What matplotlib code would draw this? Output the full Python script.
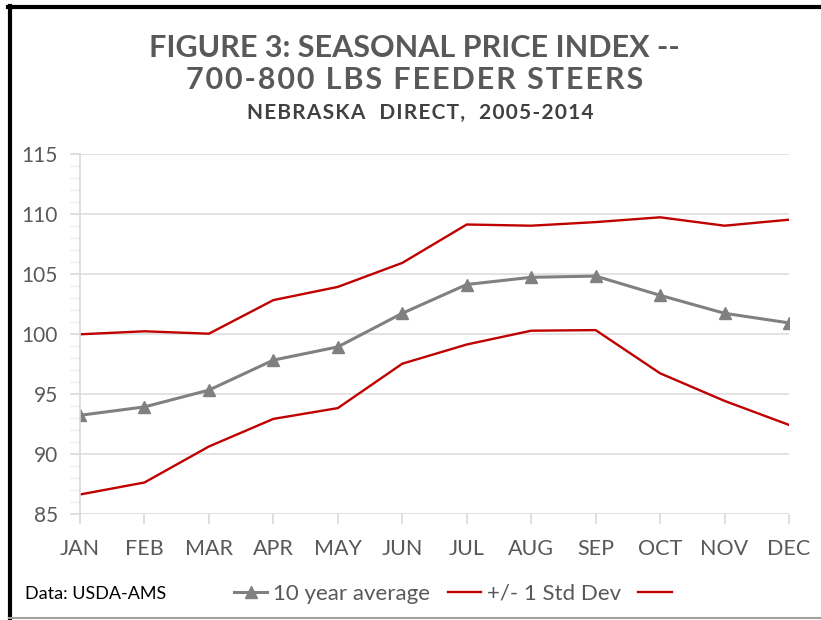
#!/usr/bin/env python3
# seasonal price index chart, feeder steers
from matplotlib import pyplot as plt
from matplotlib.lines import Line2D
from matplotlib.ticker import MultipleLocator
import numpy as np

months = ["JAN", "FEB", "MAR", "APR", "MAY", "JUN",
          "JUL", "AUG", "SEP", "OCT", "NOV", "DEC"]

# 10 year average index
avg = [93.2, 93.9, 95.3, 97.8, 98.9, 101.7,
       104.1, 104.7, 104.8, 103.2, 101.7, 100.9]
# +1 std dev
upper = [99.95, 100.2, 100.0, 102.8, 103.9, 105.9,
         109.1, 109.0, 109.3, 109.7, 109.0, 109.5]
# -1 std dev
lower = [86.6, 87.6, 90.6, 92.9, 93.8, 97.5,
         99.1, 100.25, 100.3, 96.7, 94.4, 92.4]

y_ticks = [85, 90, 95, 100, 105, 110, 115]

txt_col = "#595959"
red = "#C00000"
gray = "#808080"
fam = ["Lato", "DejaVu Sans"]
plt.rcParams["font.family"] = fam


def spaced(s):
    # excel title has wide letter spacing, fake it with hair spaces
    return "\u200a".join(s)


fig = plt.figure(figsize=(8.21, 6.2), dpi=100)
ax = fig.add_axes([80/821, 1-513.7/620, 709/821, 360/620])

x = np.arange(len(months))
l_avg, = ax.plot(x, avg, color=gray, lw=2.2, marker="^", markersize=9,
                 label="10 year average")
l_up, = ax.plot(x, upper, color=red, lw=1.7, label="+/- 1 Std Dev")
l_lo, = ax.plot(x, lower, color=red, lw=1.7, label=" ")

ax.set_xlim(0, 11)
ax.set_ylim(85, 115)
ax.set_xticks(x)
ax.set_xticklabels(months)
ax.set_yticks(y_ticks)
ax.yaxis.set_minor_locator(MultipleLocator(1))
ax.grid(axis="y", color="#dedede", lw=1.2)
ax.set_axisbelow(True)

for s in ["top", "right", "bottom"]:
    ax.spines[s].set_visible(False)
ax.spines["left"].set_color("#d9d9d9")
ax.spines["left"].set_linewidth(1.2)
ax.axhline(85, color="#d9d9d9", lw=1.2, zorder=0)

ax.tick_params(axis="y", which="major", length=7, color="#d9d9d9", width=1.2,
               labelsize=15, labelcolor=txt_col, pad=9)
ax.tick_params(axis="y", which="minor", length=7, color="#ececec", width=1)
ax.tick_params(axis="x", length=7, color="#d9d9d9", width=1.2,
               labelsize=15.5, labelcolor=txt_col, pad=11)

# titles
fig.text(0.505, 1-48/620, "FIGURE 3: SEASONAL PRICE INDEX --", ha="center", va="center",
         fontsize=22, fontweight="bold", color=txt_col)
fig.text(0.505, 1-80/620, spaced("700-800 LBS FEEDER STEERS"), ha="center", va="center",
         fontsize=22, fontweight="bold", color=txt_col)
fig.text(0.512, 1-113/620, spaced("NEBRASKA  DIRECT,  2005-2014"), ha="center", va="center",
         fontsize=15, fontweight="bold", color="#404040")

fig.text(25/821, 1-594/620, "Data: USDA-AMS", ha="left", va="center",
         fontsize=13, color="black")

fig.legend(handles=[l_avg, l_up, l_lo], loc="center left",
           bbox_to_anchor=(214/821, 1-594/620), ncol=3, frameon=False,
           handlelength=1.5, handletextpad=0.25, columnspacing=0.8,
           labelcolor=txt_col, prop={"family": fam, "size": 16})

# frame around the picture
fig.add_artist(Line2D([8/821, 1], [1-6.5/620]*2, color="black", lw=3))
fig.add_artist(Line2D([9.5/821]*2, [1-618/620, 1-6/620], color="black", lw=3))
fig.add_artist(Line2D([9/821, 1], [1-618/620]*2, color="#a0a0a0", lw=1.5))

plt.savefig("out.png", dpi=100)
